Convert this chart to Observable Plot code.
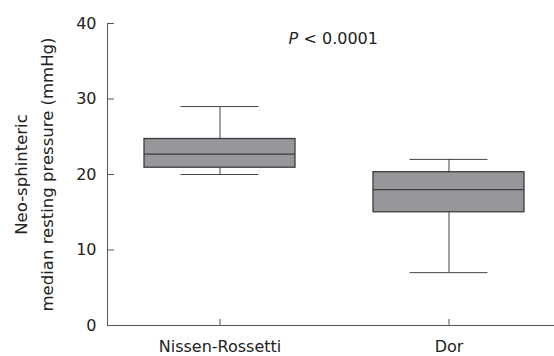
<!DOCTYPE html>
<html><head><meta charset="utf-8">
<script src="https://cdn.jsdelivr.net/npm/d3@7"></script>
<script src="https://cdn.jsdelivr.net/npm/@observablehq/plot@0.6"></script>
<style>body{margin:0;background:#fff} svg{display:block}</style>
</head><body><div id="chart"></div>
<script>
const groups = ["Nissen-Rossetti", "Dor"];
const whiskerLow = [20, 7];
const quart1 = [20.9, 15];
const median = [22.7, 18];
const quart3 = [24.7, 20.3];
const whiskerHigh = [29, 22];
const yTicks = [0, 10, 20, 30, 40];
const yLabel = ["Neo-sphinteric", "median resting pressure (mmHg)"];
const pSymbol = "P";
const pRest = "< 0.0001";

const rows = groups.map((g, i) => ({group: g, lo: whiskerLow[i], q1: quart1[i], med: median[i], q3: quart3[i], hi: whiskerHigh[i]}));

const font = "DejaVu Sans, Verdana, sans-serif";
const plot = Plot.plot({
  width: 554, height: 356,
  marginLeft: 107, marginRight: 0, marginTop: 23, marginBottom: 31,
  style: {fontFamily: font, fontSize: "16px", color: "#222", background: "#fff"},
  x: {type: "band", domain: groups, range: [104.75, 563.75], paddingInner: 0.342, paddingOuter: 0.171, label: null},
  y: {domain: [0, 40], label: null},
  marks: [
    Plot.ruleX(rows, {x: "group", y1: "lo", y2: "hi", stroke: "#444"}),
    Plot.tickY(rows, {x: "group", y: "lo", stroke: "#444", inset: 36.5}),
    Plot.tickY(rows, {x: "group", y: "hi", stroke: "#444", inset: 36.5}),
    Plot.barY(rows, {x: "group", y1: "q1", y2: "q3", fill: "#96979b", stroke: "#3c3c3c", strokeWidth: 1.3}),
    Plot.tickY(rows, {x: "group", y: "med", stroke: "#3c3c3c", strokeWidth: 1.3}),
    Plot.frame({anchor: "left", stroke: "#555"}),
    Plot.ruleY([0], {stroke: "#555"}),
    Plot.axisY({ticks: yTicks, tickSize: -7, tickPadding: 18, stroke: "#555", fill: "#222"}),
    Plot.axisX({tickSize: -6, tickPadding: 21, stroke: "#555", fill: "#222"}),
    Plot.text([yLabel.join("\n")], {frameAnchor: "left", rotate: -90, dx: -76, textAnchor: "middle", lineAnchor: "middle", lineHeight: 1.6, fill: "#222", fontSize: 16.5}),
    Plot.text([pSymbol], {frameAnchor: "top-left", dx: 181, dy: 15, textAnchor: "start", lineAnchor: "middle", fontStyle: "italic", fill: "#222"}),
    Plot.text([pRest], {frameAnchor: "top-left", dx: 196, dy: 15, textAnchor: "start", lineAnchor: "middle", fill: "#222"})
  ]
});
document.getElementById("chart").appendChild(plot);
</script></body></html>
